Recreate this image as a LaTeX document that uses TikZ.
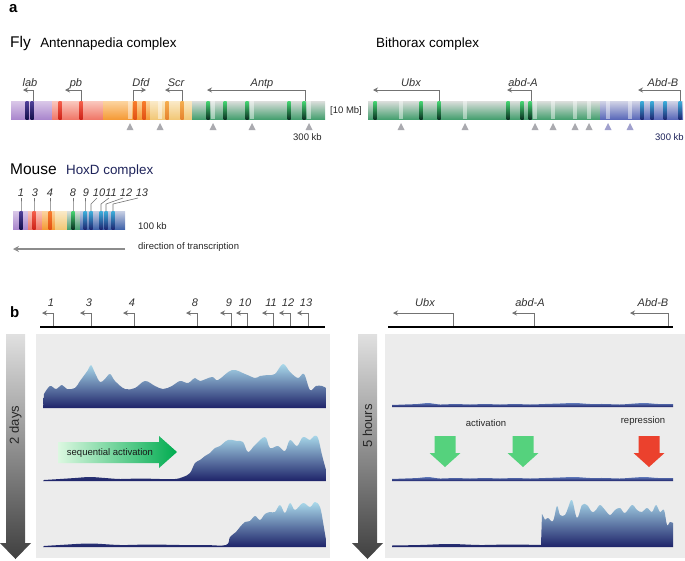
\documentclass[tikz,border=0pt]{standalone}
\usepackage{fontspec}
\setmainfont{Liberation Sans}
\usepackage{xcolor}
\usepackage{tikz}
\usetikzlibrary{arrows.meta,positioning}

\definecolor{labT}{RGB}{218,200,232}
\definecolor{labB}{RGB}{170,135,205}
\definecolor{pbT}{RGB}{250,200,190}
\definecolor{pbB}{RGB}{240,120,105}
\definecolor{dfdT}{RGB}{252,212,160}
\definecolor{dfdB}{RGB}{245,155,55}
\definecolor{scrT}{RGB}{250,234,200}
\definecolor{scrB}{RGB}{242,200,120}
\definecolor{antT}{RGB}{220,222,220}
\definecolor{antB}{RGB}{70,160,112}
\definecolor{abdT}{RGB}{210,212,230}
\definecolor{abdB}{RGB}{90,105,185}
\definecolor{hoxT}{RGB}{200,208,228}
\definecolor{hoxB}{RGB}{65,100,170}
\definecolor{labS}{RGB}{80,65,155}
\definecolor{labSD}{RGB}{20,15,75}
\definecolor{pbS}{RGB}{245,95,75}
\definecolor{pbSD}{RGB}{205,35,25}
\definecolor{dfdS}{RGB}{248,125,45}
\definecolor{dfdSD}{RGB}{225,80,20}
\definecolor{scrS}{RGB}{245,175,80}
\definecolor{scrSD}{RGB}{230,130,45}
\definecolor{antS}{RGB}{70,215,115}
\definecolor{antSD}{RGB}{10,50,35}
\definecolor{abdS}{RGB}{60,175,220}
\definecolor{abdSD}{RGB}{30,40,115}
\definecolor{genegray}{RGB}{115,115,115}
\definecolor{tickgray}{RGB}{170,170,175}
\definecolor{tickblue}{RGB}{160,160,205}
\definecolor{navytxt}{RGB}{30,35,90}
\definecolor{profT}{RGB}{170,218,235}
\definecolor{profB}{RGB}{30,35,105}
\definecolor{flatT}{RGB}{95,120,185}
\definecolor{panelbg}{RGB}{236,236,236}
\definecolor{seqL}{RGB}{220,248,225}
\definecolor{seqR}{RGB}{0,172,80}
\definecolor{actgreen}{RGB}{85,210,125}
\definecolor{repred}{RGB}{235,65,45}

\begin{document}
\begin{tikzpicture}[%
    x=1pt, y=-1pt,
    panellbl/.style={font=\fontsize{15}{15}\selectfont\bfseries, anchor=west, inner sep=0pt},
    specieslbl/.style={font=\fontsize{15.5}{16}\selectfont, anchor=base west, inner sep=0pt},
    cplxlbl/.style={font=\fontsize{13.4}{14}\selectfont, anchor=base west, inner sep=0pt},
    genelbl/.style={font=\fontsize{11}{12}\selectfont\itshape, text=black!80, anchor=base, inner sep=0pt},
    smalltxt/.style={font=\fontsize{9.5}{11}\selectfont, text=black!85, inner sep=0pt},
    genearr/.style={draw=genegray, line width=0.8pt, -{Stealth[length=5pt,width=5pt]}},
    leader/.style={draw=genegray, line width=0.6pt},
    gapband/.style={fill=white, opacity=0.45},
    marktri/.style={fill=#1},
    profile/.style={top color=profT, bottom color=profB},
    flatprof/.style={top color=flatT, bottom color=profB},
    timearrow/.style={top color=black!12, bottom color=black!75}]
\useasboundingbox (0,0) rectangle (685,560);

% panel a
\node[panellbl] (lblA) at (9,9) {a};
\node[specieslbl] (fly) at (10,47) {Fly};
\node[cplxlbl, base right=9pt of fly] (antc) {Antennapedia complex};
\node[cplxlbl] (bxc) at (376,47) {Bithorax complex};

\foreach \xa/\xb/\ct/\cb in {11/52/labT/labB, 52/103/pbT/pbB, 103/150/dfdT/dfdB, 150/192/scrT/scrB,
    192/325/antT/antB, 368/600/antT/antB, 600/683/abdT/abdB}
  \shade[top color=\ct, bottom color=\cb] (\xa,101) rectangle (\xb,119);
\foreach \x/\ct/\cb in {27/labS/labSD, 32/labS/labSD, 60/pbS/pbSD, 81/pbS/pbSD, 135/dfdS/dfdSD,
    144/dfdS/dfdSD, 167/scrS/scrSD, 182/scrS/scrSD, 208/antS/antSD, 225/antS/antSD, 247/antS/antSD,
    289/antS/antSD, 304/antS/antSD, 375/antS/antSD, 421/antS/antSD, 439/antS/antSD, 508/antS/antSD,
    522/antS/antSD, 530/antS/antSD, 642/abdS/abdSD, 652/abdS/abdSD, 665/abdS/abdSD, 680/abdS/abdSD}
  \shade[top color=\ct, bottom color=\cb] (\x-1.5,101) rectangle (\x+1.5,119);
\foreach \x/\col in {130/tickgray, 160/tickgray, 213/tickgray, 252/tickgray, 309/tickgray, 401/tickgray,
    465/tickgray, 535/tickgray, 553/tickgray, 575/tickgray, 589/tickgray, 608/tickblue, 630/tickblue}{
  \fill[gapband] (\x-2,101) rectangle (\x+2,119);
  \fill[marktri=\col] (\x-3.5,130) -- (\x+3.5,130) -- (\x,123) -- cycle;}

\foreach \x/\e/\g/\lx in {33/23/lab/30, 81/65/pb/76, 133/146/Dfd/141, 182/165/Scr/176, 305/207/Antp/262,
    439/373/Ubx/411, 531/507/abd-A/523, 680/638/Abd-B/663}{
  \draw[genearr] (\x,101) -- (\x,90) -- (\e,90);
  \node[genelbl] (fly-\g) at (\lx,86) {\g};}

\node[smalltxt, anchor=west] (mbA) at (330,111) {[10 Mb]};
\node[smalltxt, anchor=west] (kbA) at (293,137) {300 kb};
\node[smalltxt, anchor=west, text=navytxt] (kbB) at (655,137) {300 kb};

\node[specieslbl] (mouse) at (10,174) {Mouse};
\node[cplxlbl, text=navytxt, base right=9pt of mouse] (hoxd) {HoxD complex};
\foreach \xa/\xb/\ct/\cb in {13/28/labT/labB, 28/42/pbT/pbB, 42/55/dfdT/dfdB, 55/67/scrT/scrB,
    67/80/antT/antB, 80/125/hoxT/hoxB}
  \shade[top color=\ct, bottom color=\cb] (\xa,211) rectangle (\xb,229);
\foreach \x/\ct/\cb in {21/labS/labSD, 34/pbS/pbSD, 50/dfdS/dfdSD, 73/antS/antSD, 85/abdS/abdSD,
    91/abdS/abdSD, 101/abdS/abdSD, 106/abdS/abdSD, 113/abdS/abdSD}
  \shade[top color=\ct, bottom color=\cb] (\x-1.5,211) rectangle (\x+1.5,229);
\foreach \x/\n/\ex/\lx in {21/1/21/21, 34/3/34/35, 50/4/50/50, 73/8/73/73, 85/9/85/86, 91/10/97/99,
    101/11/109/111, 106/12/123/126, 113/13/138/142}{
  \draw[leader] (\x,211) -- (\x,204) -- (\ex,198);
  \node[genelbl] (hoxd-\n) at (\lx,196) {\n};}
\node[smalltxt, anchor=west] (kbM) at (138,226) {100 kb};
\coordinate (dirR) at (125,249);
\coordinate (dirL) at (13,249);
\draw[draw=black!45, line width=1.6pt, -{Stealth[length=6pt,width=6pt]}] (dirR) -- (dirL);
\node[smalltxt, anchor=west] (dirtxt) at (138,247) {direction of transcription};

% panel b
\node[panellbl] (lblB) at (10,312) {b};
\fill[panelbg] (36,334) rectangle (330,558);
\fill[panelbg] (385,334) rectangle (685,558);
\shade[timearrow] (6,334) -- (25,334) -- (25,543) -- (31,543) -- (15.5,559) -- (0,543) -- (6,543) -- cycle;
\shade[timearrow] (358,334) -- (377,334) -- (377,543) -- (383,543) -- (367.5,559) -- (352,543) -- (358,543) -- cycle;
\node[rotate=90, font=\fontsize{13}{13}\selectfont, text=black!85] (days) at (15.5,425) {2 days};
\node[rotate=90, font=\fontsize{13}{13}\selectfont, text=black!85] (hours) at (367.5,426) {5 hours};

\foreach \x/\n in {53/1, 91/3, 134/4, 197/8, 231/9, 247/10, 273/11, 290/12, 308/13}{
  \draw[genearr] (\x,327) -- (\x,313) -- (\x-11,313);
  \node[genelbl] (hox-\n) at (\x-2,306) {\n};}
\foreach \x/\e/\g/\lx in {453/393/Ubx/425, 534/512/abd-A/530, 668/630/Abd-B/653}{
  \draw[genearr] (\x,327) -- (\x,313) -- (\e,313);
  \node[genelbl] (bx-\g) at (\lx,306) {\g};}
\draw[line width=1.5pt] (40,327) -- (325,327);
\draw[line width=1.5pt] (388,327) -- (673,327);

\shade[profile] (43,408) -- plot[smooth, tension=0.6] coordinates {(44,394) (50,386) (56,389) (62,385)
    (67,389) (75,388) (80,381) (88,370) (91,365) (95,373) (100,382) (105,379) (110,374) (115,381)
    (125,389) (135,388) (145,381) (155,386) (163,389) (172,386) (180,381) (188,383) (195,378) (200,381)
    (212,377) (218,380) (232,370) (245,374) (255,378) (260,376) (268,375) (275,374) (283,364) (290,372)
    (298,378) (304,374) (310,390) (316,386) (322,386) (326,388)} -- (326,408) -- cycle;
\shade[profile] (43,481) -- plot[smooth, tension=0.6] coordinates {(44,480) (60,479) (75,478) (90,477)
    (105,478) (120,479) (140,478.5) (160,479) (175,479) (183,477) (190,473) (195,463) (200,460) (205,456)
    (210,453) (215,448) (220,446) (228,440) (237,441) (243,442) (248,452) (255,445) (265,437) (270,448)
    (278,446) (285,451) (290,440) (297,446) (303,437) (310,440) (314,436) (318,438) (322,455) (326,470)}
    -- (326,481) -- cycle;
\shade[profile] (43,547) -- plot[smooth, tension=0.6] coordinates {(44,546) (60,545) (90,543.5) (120,545)
    (150,544.5) (180,545) (205,545) (226,545) (230,537) (236,532) (240,527) (245,522) (250,521) (255,516)
    (260,520) (265,514) (270,512) (275,512) (280,505) (285,513) (290,503) (295,510) (303,503) (310,507)
    (315,502) (320,507) (323,522) (326,540)} -- (326,547) -- cycle;

\foreach \b in {407,481}
  \shade[flatprof] (392,\b) -- plot[smooth] coordinates {(392,\b-2) (405,\b-2.5) (418,\b-3) (428,\b-4)
    (440,\b-2.5) (455,\b-3) (470,\b-2.5) (485,\b-3) (500,\b-2.5) (515,\b-3) (530,\b-2.5) (545,\b-3)
    (560,\b-3.5) (575,\b-4) (590,\b-3) (605,\b-3) (620,\b-2.5) (635,\b-3.5) (645,\b-4) (658,\b-3)
    (673,\b-3)} -- (673,\b) -- cycle;
\shade[profile] (392,547) -- plot[smooth, tension=0.6] coordinates {(392,545.5) (420,545) (450,544)
    (480,545) (510,544.5) (541,545)} -- (542,514) -- plot[smooth, tension=0.6] coordinates {(545,520)
    (548,518) (553,521) (557,506) (560,515) (565,515) (568,508) (572,500) (577,518) (582,505) (587,505)
    (592,512) (596,510) (600,505) (605,510) (610,515) (615,510) (620,508) (625,513) (632,505) (637,510)
    (642,512) (647,508) (652,512) (656,505) (660,512) (664,510) (667,525) (670,522) (673,523)}
    -- (673,547) -- cycle;

\shade[left color=seqL, right color=seqR] (58,442) -- (159,442) -- (159,436) -- (177,452) -- (159,468)
    -- (159,463) -- (58,463) -- cycle;
\node[smalltxt, text=black!90] (seq) at (110,453) {sequential activation};
\node[smalltxt] (act) at (486,423) {activation};
\node[smalltxt] (rep) at (643,421) {repression};
\foreach \c/\col in {445/actgreen, 523/actgreen, 649/repred}
  \fill[\col] (\c-10.5,436) -- (\c+10.5,436) -- (\c+10.5,453) -- (\c+15.5,453) -- (\c,467)
    -- (\c-15.5,453) -- (\c-10.5,453) -- cycle;
\end{tikzpicture}
\end{document}
